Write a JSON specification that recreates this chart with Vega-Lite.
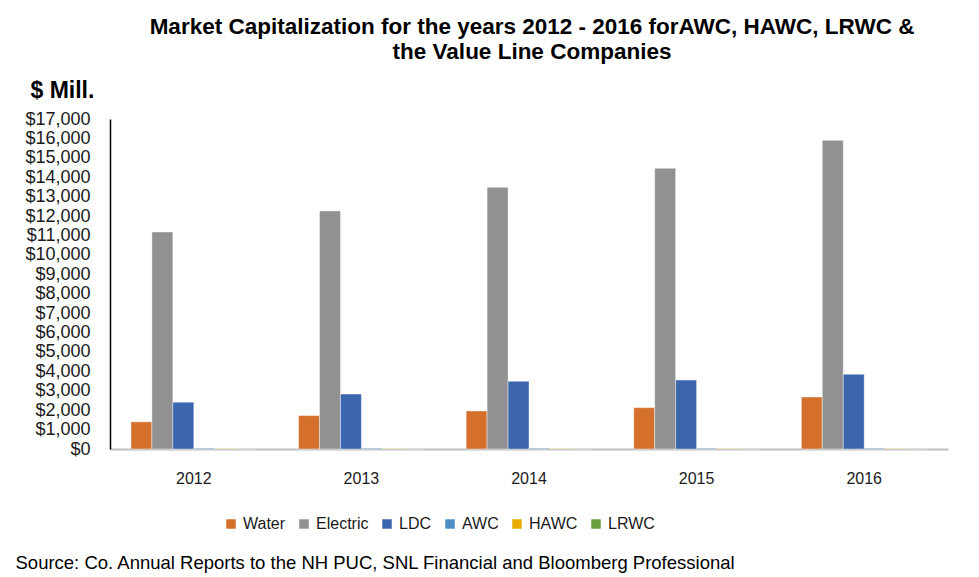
{
  "$schema": "https://vega.github.io/schema/vega-lite/v6.json",
  "width": 838,
  "height": 330,
  "autosize": {"type": "none"},
  "padding": {"left": 110, "top": 119, "right": 31, "bottom": 128},
  "background": "white",
  "title": {
    "text": ["Market Capitalization for the years 2012 - 2016 forAWC, HAWC, LRWC &", "the Value Line Companies"],
    "font": "Liberation Sans",
    "fontSize": 22.5,
    "fontWeight": "bold",
    "color": "#000000",
    "anchor": "middle",
    "dx": 3,
    "offset": 16,
    "lineHeight": 25
  },
  "data": {
    "values": [
      {"year": "2012", "series": "Water", "value": 1400},
      {"year": "2012", "series": "Electric", "value": 11180},
      {"year": "2012", "series": "LDC", "value": 2410},
      {"year": "2012", "series": "AWC", "value": 40},
      {"year": "2012", "series": "HAWC", "value": 25},
      {"year": "2012", "series": "LRWC", "value": 10},
      {"year": "2013", "series": "Water", "value": 1720},
      {"year": "2013", "series": "Electric", "value": 12260},
      {"year": "2013", "series": "LDC", "value": 2830},
      {"year": "2013", "series": "AWC", "value": 40},
      {"year": "2013", "series": "HAWC", "value": 25},
      {"year": "2013", "series": "LRWC", "value": 10},
      {"year": "2014", "series": "Water", "value": 1960},
      {"year": "2014", "series": "Electric", "value": 13480},
      {"year": "2014", "series": "LDC", "value": 3490},
      {"year": "2014", "series": "AWC", "value": 40},
      {"year": "2014", "series": "HAWC", "value": 25},
      {"year": "2014", "series": "LRWC", "value": 10},
      {"year": "2015", "series": "Water", "value": 2130},
      {"year": "2015", "series": "Electric", "value": 14460},
      {"year": "2015", "series": "LDC", "value": 3550},
      {"year": "2015", "series": "AWC", "value": 40},
      {"year": "2015", "series": "HAWC", "value": 25},
      {"year": "2015", "series": "LRWC", "value": 10},
      {"year": "2016", "series": "Water", "value": 2680},
      {"year": "2016", "series": "Electric", "value": 15900},
      {"year": "2016", "series": "LDC", "value": 3850},
      {"year": "2016", "series": "AWC", "value": 40},
      {"year": "2016", "series": "HAWC", "value": 25},
      {"year": "2016", "series": "LRWC", "value": 10}
    ]
  },
  "mark": {"type": "bar", "stroke": "#ffffff", "strokeWidth": 0.6, "strokeOpacity": 0.7},
  "encoding": {
    "x": {
      "field": "year",
      "type": "nominal",
      "scale": {"paddingInner": 0.25, "paddingOuter": 0.125},
      "axis": {
        "title": "Source: Co. Annual Reports to the NH PUC, SNL Financial and Bloomberg Professional",
        "titleFont": "Liberation Sans",
        "titleFontSize": 18.5,
        "titleFontWeight": "normal",
        "titleColor": "#000000",
        "titleAnchor": "start",
        "titleAlign": "left",
        "titleBaseline": "alphabetic",
        "titleX": -95,
        "titleY": 119,
        "labelAngle": 0,
        "labelFont": "Liberation Sans",
        "labelFontSize": 16,
        "labelColor": "#1a1a1a",
        "labelBaseline": "top",
        "labelPadding": 21,
        "ticks": false,
        "tickSize": 0,
        "domainColor": "#bfbfbf",
        "domainWidth": 2
      }
    },
    "xOffset": {
      "field": "series",
      "type": "nominal",
      "sort": ["Water", "Electric", "LDC", "AWC", "HAWC", "LRWC"],
      "scale": {"paddingInner": 0, "paddingOuter": 0}
    },
    "y": {
      "field": "value",
      "type": "quantitative",
      "scale": {"domain": [0, 17000], "nice": false},
      "axis": {
        "values": [0, 1000, 2000, 3000, 4000, 5000, 6000, 7000, 8000, 9000, 10000, 11000, 12000, 13000, 14000, 15000, 16000, 17000],
        "format": "$,.0f",
        "grid": false,
        "ticks": false,
        "tickSize": 0,
        "labelPadding": 20,
        "labelFont": "Liberation Sans",
        "labelFontSize": 18,
        "labelColor": "#1a1a1a",
        "domainColor": "#000000",
        "domainWidth": 1.5,
        "title": "$ Mill.",
        "titleAngle": 0,
        "titleFont": "Liberation Sans",
        "titleFontSize": 23,
        "titleFontWeight": "bold",
        "titleColor": "#000000",
        "titleAlign": "left",
        "titleBaseline": "alphabetic",
        "titleAnchor": "start",
        "titleX": -80,
        "titleY": -22
      }
    },
    "color": {
      "field": "series",
      "type": "nominal",
      "sort": ["Water", "Electric", "LDC", "AWC", "HAWC", "LRWC"],
      "scale": {
        "domain": ["Water", "Electric", "LDC", "AWC", "HAWC", "LRWC"],
        "range": ["#d4702b", "#919191", "#3b65ad", "#4e8dc4", "#e6ac00", "#69a03e"]
      },
      "legend": {
        "title": null,
        "orient": "none",
        "direction": "horizontal",
        "legendX": 113,
        "legendY": 397,
        "symbolType": "square",
        "symbolSize": 90,
        "symbolStrokeWidth": 0,
        "labelFont": "Liberation Sans",
        "labelFontSize": 16,
        "labelColor": "#1a1a1a",
        "labelOffset": 4,
        "columnPadding": 10,
        "padding": 0
      }
    }
  },
  "config": {
    "view": {"stroke": null}
  }
}
